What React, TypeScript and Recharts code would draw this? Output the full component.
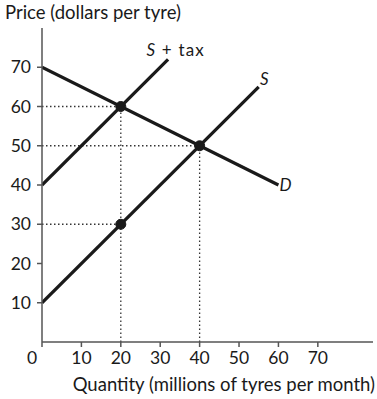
import React from "react";
import { LineChart, Line, XAxis, YAxis, ReferenceLine, ReferenceDot } from "recharts";

// price in dollars per tyre, quantity in millions of tyres per month
const supply = [
  { q: 0, p: 10 },
  { q: 55, p: 65 },
];
const supplyWithTax = [
  { q: 0, p: 40 },
  { q: 32, p: 72 },
];
const demand = [
  { q: 0, p: 70 },
  { q: 60, p: 40 },
];
const equilibria = [
  { q: 20, p: 60 },
  { q: 40, p: 50 },
  { q: 20, p: 30 },
];
const dropLines = [
  { q: 20, p: 60 },
  { q: 40, p: 50 },
];
const curveLabels = [
  { q: 26.5, p: 74.5, text: "S + tax" },
  { q: 55.3, p: 67, text: "S" },
  { q: 60.3, p: 40, text: "D" },
];
const xTicks = [0, 10, 20, 30, 40, 50, 60, 70];
const yTicks = [10, 20, 30, 40, 50, 60, 70];

const FONT = "Lato, 'Open Sans', sans-serif";
const INK = "#1a1a1a";

const XTick = (props: any) => {
  const { x, y, payload } = props;
  const shift = payload.value === 0 ? -10 : 0;
  return (
    <text x={x + shift} y={y} dy="0.71em" textAnchor="middle" fontSize={17.5} fill={INK} fontFamily={FONT}>
      {payload.value}
    </text>
  );
};

const CurveLabel = (text: string) => (props: any) => {
  const { viewBox } = props;
  const cx = viewBox.x + (viewBox.width || 0) / 2;
  const cy = viewBox.y + (viewBox.height || 0) / 2;
  return (
    <text x={cx} y={cy} dy="0.35em" fontSize={17} fill={INK} fontFamily={FONT} letterSpacing={text.length > 1 ? 1.2 : 0}>
      <tspan fontStyle="italic">{text.charAt(0)}</tspan>
      {text.slice(1)}
    </text>
  );
};

export default function App() {
  return (
    <div style={{ position: "absolute", left: 0, top: 0, width: 377, height: 399, background: "#fff", fontFamily: FONT }}>
      <div style={{ position: "absolute", left: 5, top: 2, fontSize: 18.5, color: INK, lineHeight: "20px" }}>
        Price (dollars per tyre)
      </div>
      <div style={{ position: "absolute", right: 2, top: 374, fontSize: 18.5, color: INK, lineHeight: "20px", whiteSpace: "nowrap" }}>
        Quantity (millions of tyres per month)
      </div>
      <LineChart width={377} height={399} margin={{ top: 28, right: 4, left: 0, bottom: 0 }}>
        <XAxis
          type="number"
          dataKey="q"
          domain={[0, 84]}
          ticks={xTicks}
          allowDataOverflow
          height={57}
          tickSize={5}
          tickMargin={5}
          tick={<XTick />}
          axisLine={{ stroke: "#555", strokeWidth: 1.5 }}
          tickLine={{ stroke: "#555", strokeWidth: 1.5 }}
        />
        <YAxis
          type="number"
          dataKey="p"
          domain={[0, 80]}
          ticks={yTicks}
          allowDataOverflow
          width={42}
          tickSize={5}
          tickMargin={6}
          tick={{ fontSize: 17.5, fill: INK, fontFamily: FONT }}
          axisLine={{ stroke: "#555", strokeWidth: 1.5 }}
          tickLine={{ stroke: "#555", strokeWidth: 1.5 }}
        />
        {equilibria.map((pt, i) => (
          <ReferenceLine
            key={`h-${i}`}
            segment={[
              { x: 0, y: pt.p },
              { x: pt.q, y: pt.p },
            ]}
            stroke="#333"
            strokeWidth={1.3}
            strokeDasharray="1.5 2.5"
          />
        ))}
        {dropLines.map((pt, i) => (
          <ReferenceLine
            key={`v-${i}`}
            segment={[
              { x: pt.q, y: 0 },
              { x: pt.q, y: pt.p },
            ]}
            stroke="#333"
            strokeWidth={1.3}
            strokeDasharray="1.5 2.5"
          />
        ))}
        <Line data={demand} dataKey="p" type="linear" stroke={INK} strokeWidth={3.2} dot={false} isAnimationActive={false} />
        <Line data={supply} dataKey="p" type="linear" stroke={INK} strokeWidth={3.2} dot={false} isAnimationActive={false} />
        <Line data={supplyWithTax} dataKey="p" type="linear" stroke={INK} strokeWidth={3.2} dot={false} isAnimationActive={false} />
        {equilibria.map((pt, i) => (
          <ReferenceDot key={`e-${i}`} x={pt.q} y={pt.p} r={5} fill={INK} stroke={INK} />
        ))}
        {curveLabels.map((l, i) => (
          <ReferenceDot
            key={`l-${i}`}
            x={l.q}
            y={l.p}
            r={0}
            fill="none"
            stroke="none"
            label={CurveLabel(l.text)}
          />
        ))}
      </LineChart>
    </div>
  );
}
